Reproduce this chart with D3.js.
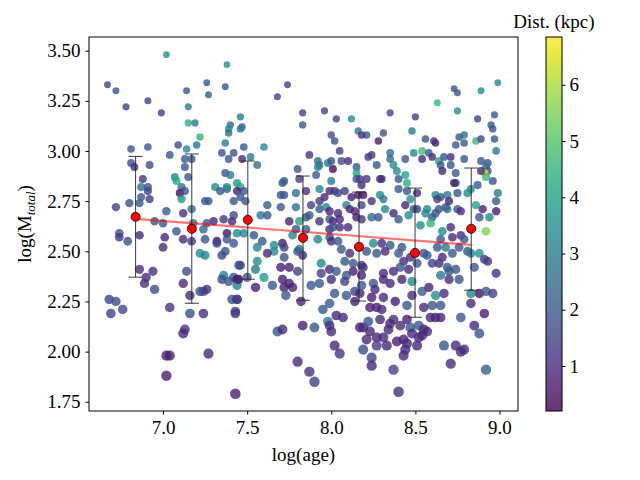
<!DOCTYPE html>
<html>
<head>
<meta charset="utf-8">
<script src="https://cdn.jsdelivr.net/npm/d3@7"></script>
<style>
  body { margin: 0; background: #fff; }
  text { font-family: "Liberation Serif", "DejaVu Serif", serif; }
</style>
</head>
<body>
<script>
// scatter: log(age), log(M_total), distance (kpc)
const logAge = [
  7.02,7.38,6.67,6.72,6.91,6.78,7.14,7.26,7.27,7.37, 6.99,7.15,7.15,7.19,7.22,7.40,7.39,7.39,6.81,6.91,
  7.09,7.14,7.20,7.37,7.04,6.81,6.83,6.92,7.13,7.17, 7.13,7.35,7.42,7.39,7.37,7.40,6.88,7.07,7.08,7.15,
  6.87,6.91,6.91,7.11,7.10,7.13,7.11,6.87,6.92,7.31, 7.34,7.38,7.38,7.44,6.72,6.80,6.86,7.02,7.12,7.17,
  7.25,7.27,7.42,7.36,7.30,7.42,7.41,6.95,7.00,7.18, 7.26,
  6.74,6.74,6.79,6.86,7.01,7.00,7.08,7.12,7.17,7.24, 7.25,7.32,7.32,7.38,7.38,7.44,7.42,7.22,7.25,7.35,
  7.37,7.45,6.86,6.94,6.90,6.89,6.95,7.14,7.12,7.16, 7.22,7.24,7.26,7.36,7.35,7.39,7.42,7.44,7.44,6.68,
  6.72,6.69,6.76,7.04,7.16,7.24,7.41,7.44,7.43,7.13, 7.12,7.02,7.04,7.27,7.02,7.43,
  7.74,7.68,7.83,7.83,7.96,8.03,8.12,7.46,7.47,7.46, 8.00,8.02,8.16,8.21,8.18,8.28,7.48,7.60,7.47,7.52,
  7.56,8.05,7.87,7.92,7.93,7.98,8.00,8.01,8.06,8.10, 7.92,7.91,7.80,8.15,8.15,8.22,8.24,8.27,8.29,7.81,
  7.72,7.71,8.00,8.15,8.17,8.18,8.21,7.46,7.48,7.44, 7.46,7.49,7.85,7.93,7.99,8.02,8.04,8.08,7.96,7.93,
  8.12,8.16,8.19,8.24,7.70,7.72,7.79,7.62,7.70,7.79, 7.88,7.93,7.97,7.99,8.04,8.09,8.11,8.14,8.18,8.15,
  8.18,8.24,8.28,7.58,7.62,7.81,7.75,7.85,7.87,7.99, 8.01,8.05,7.93,
  7.48,7.54,7.59,7.56,7.66,7.66,7.62,7.71,7.72,7.77, 7.79,7.85,7.81,7.83,7.80,7.92,7.99,8.00,8.04,8.06,
  7.99,8.01,8.05,8.10,8.25,8.21,8.27,8.11,8.08,8.13, 8.18,8.19,7.46,7.56,7.55,7.60,7.45,7.50,7.55,7.65,
  7.72,7.70,7.75,7.80,7.71,7.72,7.75,7.77,7.73,7.88, 7.93,7.94,7.94,8.00,7.99,8.03,8.02,7.99,7.95,7.82,
  8.09,8.08,8.09,8.14,8.17,8.14,8.18,8.13,8.18,8.25, 8.26,8.24,8.23,8.27,7.44,7.43,7.68,7.71,7.83,7.90,
  7.98,7.99,8.00,8.03,8.07,8.02,8.05,8.17,8.19,8.22, 8.23,8.21,8.27,8.19,8.27,8.24,8.24,7.80,7.87,7.90,
  8.73,8.75,8.89,8.99,8.63,8.75,8.35,8.50,8.48,8.87, 8.97,8.95,8.96,8.31,8.56,8.61,8.62,8.76,8.79,8.79,
  8.74,8.86,8.89,8.97,8.98,8.35,8.35,8.37,8.39,8.44, 8.49,8.54,8.54,8.58,8.60,8.64,8.67,8.71,8.71,8.65,
  8.66,8.74,8.79,8.89,8.93,8.92,8.93,8.91,8.92,8.96, 8.89,8.87,8.83,8.81,8.74,8.73,8.69,8.75,8.65,8.62,
  8.63,8.44,8.45,8.40,8.40,8.45,8.51,8.30,8.29,8.31, 8.32,8.37,8.44,8.47,8.49,8.51,8.56,8.57,8.60,8.62,
  8.64,8.68,8.70,8.69,8.75,8.77,8.86,8.90,8.98,8.98, 8.99,8.94,8.88,8.40,8.46,
  8.59,8.92,8.88,8.53,8.71,8.66,8.72,8.77,8.79,8.76, 8.81,8.83,8.91,8.93,8.98,8.85,8.74,8.76,8.70,8.65,
  8.66,8.64,8.69,8.60,8.57,8.55,8.51,8.47,8.43,8.42, 8.35,8.32,8.30,8.40,8.41,8.37,8.31,8.31,8.35,8.42,
  8.48,8.46,8.54,8.58,8.62,8.67,8.65,8.60,8.55,8.48, 8.45,8.38,8.31,8.30,8.29,8.35,8.37,8.34,8.41,8.45,
  8.47,8.52,8.54,8.48,8.43,8.39,8.45,8.33,8.31,8.43, 8.44,8.51,8.52,8.59,8.62,8.65,8.55,8.57,8.67,8.74,
  8.77,8.79,8.71,8.77,8.85,8.83,8.88,8.83,8.92,8.96, 8.91,8.88,8.92,8.37,8.40,8.70,8.72,8.68,8.63,8.65
];
const logMass = [
  3.48,3.43,3.33,3.30,3.25,3.22,3.30,3.34,3.28,3.32, 3.19,3.22,3.14,3.14,3.07,3.13,3.11,3.09,3.01,3.02,
  3.03,3.01,3.03,3.04,2.98,2.94,2.92,2.93,2.96,2.96, 2.92,2.99,2.99,2.96,2.89,2.88,2.86,2.87,2.85,2.87,
  2.82,2.82,2.80,2.82,2.79,2.80,2.76,2.77,2.76,2.82, 2.80,2.81,2.82,2.84,2.72,2.74,2.74,2.70,2.69,2.71,
  2.75,2.75,2.75,2.66,2.65,2.68,2.65,2.65,2.64,2.64, 2.64,
  2.59,2.57,2.55,2.58,2.57,2.52,2.60,2.56,2.55,2.61, 2.56,2.55,2.54,2.59,2.56,2.59,2.54,2.49,2.48,2.48,
  2.50,2.43,2.41,2.40,2.37,2.34,2.31,2.40,2.34,2.28, 2.30,2.30,2.31,2.38,2.36,2.35,2.37,2.36,2.33,2.26,
  2.25,2.19,2.21,2.22,2.19,2.19,2.26,2.26,2.19,2.11, 2.09,1.98,1.98,1.99,1.88,1.79,
  3.33,3.27,3.19,3.13,3.20,3.16,3.16,3.17,3.12,3.11, 3.08,3.05,3.10,3.08,3.08,3.05,3.02,3.02,2.96,2.97,
  2.93,3.00,2.98,2.95,2.93,2.94,2.95,2.91,2.95,2.95, 2.92,2.88,2.91,2.92,2.89,2.97,2.98,2.93,2.86,2.86,
  2.85,2.84,2.85,2.86,2.86,2.83,2.86,2.82,2.80,2.80, 2.77,2.75,2.80,2.81,2.80,2.80,2.79,2.80,2.77,2.75,
  2.77,2.78,2.78,2.75,2.78,2.78,2.79,2.73,2.72,2.72, 2.73,2.71,2.72,2.70,2.69,2.73,2.71,2.70,2.73,2.67,
  2.66,2.67,2.67,2.68,2.68,2.65,2.65,2.67,2.68,2.66, 2.65,2.66,2.65,
  2.59,2.58,2.55,2.52,2.53,2.50,2.49,2.54,2.52,2.58, 2.61,2.61,2.51,2.48,2.50,2.56,2.57,2.55,2.55,2.51,
  2.61,2.62,2.62,2.62,2.54,2.50,2.49,2.49,2.45,2.44, 2.43,2.42,2.43,2.45,2.41,2.37,2.36,2.37,2.32,2.33,
  2.47,2.42,2.42,2.40,2.36,2.32,2.34,2.32,2.28,2.33, 2.34,2.44,2.39,2.36,2.41,2.40,2.29,2.24,2.21,2.25,
  2.38,2.35,2.28,2.30,2.29,2.25,2.33,2.40,2.38,2.34, 2.31,2.27,2.22,2.22,2.26,2.20,2.10,2.11,2.13,2.12,
  2.15,2.13,2.10,2.18,2.17,2.03,1.99,2.12,2.12,2.15, 2.10,2.06,2.07,2.01,2.03,1.97,1.93,1.95,1.90,1.85,
  3.31,3.29,3.30,3.34,3.24,3.20,3.19,3.17,3.10,3.16, 3.18,3.13,3.11,3.09,3.06,3.05,3.04,3.07,3.08,3.04,
  3.03,3.05,3.06,3.06,3.00,2.99,2.96,2.93,2.90,2.96, 2.99,3.00,2.96,2.99,2.97,2.95,2.97,2.97,2.93,2.93,
  2.90,2.89,2.96,2.95,2.94,2.92,2.90,2.89,2.87,2.85, 2.90,2.83,2.81,2.79,2.84,2.84,2.78,2.79,2.77,2.78,
  2.76,2.88,2.84,2.86,2.81,2.80,2.79,2.86,2.78,2.76, 2.71,2.69,2.73,2.76,2.71,2.71,2.69,2.71,2.67,2.69,
  2.71,2.72,2.75,2.71,2.71,2.70,2.73,2.71,2.70,2.75, 2.79,2.67,2.67,2.66,2.68,
  2.64,2.60,2.49,2.63,2.62,2.60,2.57,2.58,2.56,2.52, 2.50,2.49,2.46,2.45,2.39,2.42,2.41,2.36,2.36,2.38,
  2.47,2.44,2.42,2.44,2.48,2.49,2.44,2.47,2.45,2.52, 2.53,2.50,2.54,2.49,2.42,2.40,2.39,2.36,2.34,2.36,
  2.35,2.41,2.30,2.32,2.28,2.29,2.23,2.23,2.22,2.28, 2.23,2.25,2.27,2.21,2.16,2.14,2.16,2.11,2.13,2.16,
  2.12,2.13,2.08,2.09,2.06,2.05,2.04,2.03,2.07,1.98, 2.01,2.03,2.07,2.17,2.17,2.17,2.11,2.10,2.03,2.03,
  2.00,2.01,1.94,2.17,2.13,2.24,2.29,2.29,2.30,2.29, 2.19,2.09,1.91,1.91,1.80,2.40,2.49,2.52,2.52,2.56
];
const distKpc = [
  3.2,3.6,1.5,2.0,1.5,1.5,2.0,2.0,2.2,2.0, 1.5,2.9,4.4,2.9,4.6,2.6,3.2,2.6,2.0,2.0,
  1.8,3.4,2.9,3.1,2.0,1.8,1.0,1.8,2.0,2.0, 2.0,1.8,1.8,2.0,2.0,2.9,1.2,3.4,4.2,2.0,
  2.6,2.0,1.5,2.6,0.4,2.0,3.8,2.0,1.2,3.4, 2.0,2.6,3.4,3.8,1.5,1.8,2.0,2.0,1.1,2.6,
  2.0,2.0,2.0,1.3,1.0,1.8,1.0,2.0,2.0,2.9, 2.0,
  1.8,1.3,1.8,1.0,1.0,1.1,2.0,1.0,1.2,2.6, 2.0,0.5,1.5,0.5,2.0,3.4,2.0,3.4,3.2,1.5,
  2.0,2.0,1.0,1.1,1.0,1.1,1.8,1.8,1.0,1.0, 1.7,1.7,1.2,3.2,1.8,2.0,2.0,0.5,3.2,1.5,
  1.8,1.5,1.6,1.2,1.8,1.1,1.8,0.7,1.4,1.2, 1.0,0.8,0.8,1.0,0.8,0.8,
  1.5,1.5,1.5,2.0,1.5,1.5,3.4,2.9,2.0,2.9, 1.8,1.8,2.9,2.0,1.2,0.8,2.0,3.4,1.0,2.9,
  2.6,1.4,1.2,2.6,2.6,3.1,2.0,0.4,1.8,1.0, 3.2,2.0,2.0,2.0,4.2,1.2,1.4,2.0,1.2,1.4,
  2.0,2.0,2.9,2.0,1.5,1.0,1.2,4.1,2.0,0.8, 2.0,2.0,1.1,3.4,1.0,1.0,1.8,1.4,1.0,1.2,
  0.8,0.6,0.6,1.1,2.0,2.0,2.6,2.0,2.0,2.6, 1.5,2.0,3.2,0.8,0.9,3.2,0.8,1.0,1.5,0.8,
  1.3,2.6,2.0,3.1,2.0,4.0,0.8,2.0,2.0,2.0, 1.0,1.0,1.1,
  3.2,2.0,2.0,3.2,3.4,3.4,0.9,0.7,1.4,3.2, 2.0,2.0,2.9,1.0,2.0,3.2,2.0,1.0,2.0,2.0,
  1.0,2.0,1.0,1.0,3.4,2.0,2.0,1.0,2.0,2.0, 1.5,1.0,1.5,3.4,2.9,4.0,0.8,2.0,0.8,2.0,
  2.0,0.8,0.8,1.5,0.8,0.8,0.8,0.8,2.0,2.0, 2.0,3.4,1.4,1.0,1.0,2.0,2.0,2.0,2.0,0.9,
  2.0,1.5,2.0,1.5,0.9,0.8,2.0,0.8,0.8,2.0, 1.0,0.8,0.8,0.8,1.5,1.4,2.0,1.0,0.8,2.0,
  2.9,1.0,1.0,1.0,1.0,1.0,1.2,0.9,0.9,2.0, 0.9,1.0,0.9,1.8,1.4,1.4,1.0,1.0,1.1,1.4,
  2.0,2.0,3.4,3.4,4.6,3.4,1.5,1.5,2.9,1.5, 2.0,2.0,2.0,2.0,2.0,1.2,1.0,2.0,2.6,2.0,
  2.0,4.7,1.5,2.0,2.9,2.6,2.6,3.4,3.4,2.0, 3.4,4.8,1.0,2.0,1.0,4.1,2.0,1.0,2.0,2.0,
  1.0,2.0,2.0,2.0,2.0,2.6,2.0,6.6,4.6,2.0, 1.0,2.0,3.4,3.4,2.0,0.8,2.9,2.0,2.0,3.4,
  1.5,4.2,4.4,2.0,2.0,2.0,1.0,1.0,3.4,2.9, 3.4,1.0,1.0,3.4,2.0,1.4,3.4,3.4,2.0,2.0,
  2.0,2.0,0.9,2.6,2.0,1.0,4.1,0.8,0.8,2.0, 2.9,3.4,2.0,2.0,3.4,
  4.6,5.5,3.6,3.4,1.0,3.4,1.0,1.0,2.0,2.0, 2.0,2.9,1.5,1.2,1.2,2.0,2.0,2.0,1.0,2.9,
  1.0,1.0,2.0,1.5,2.0,2.0,2.0,1.0,1.0,2.0, 2.0,1.0,1.0,2.0,2.0,1.0,1.0,1.0,1.0,0.9,
  3.5,1.0,2.0,0.9,3.4,1.0,2.0,2.0,1.0,1.0, 2.0,0.8,1.0,1.0,1.0,1.0,1.0,1.0,1.0,0.8,
  2.0,2.0,1.0,1.0,0.8,0.8,1.0,1.0,1.0,1.0, 1.0,1.0,1.0,0.9,0.9,0.9,1.0,1.0,2.0,1.0,
  1.0,1.0,1.0,2.0,1.0,1.0,0.5,3.2,2.0,1.5, 0.8,2.0,2.2,1.5,1.1,2.0,2.0,2.9,2.0,2.0
];

// binned medians with asymmetric spread
const binAge = [6.837, 7.171, 7.504, 7.832, 8.165, 8.498, 8.832];
const binMed = [2.672, 2.612, 2.657, 2.567, 2.522, 2.492, 2.612];
const binLo  = [2.371, 2.241, 2.361, 2.256, 2.252, 2.171, 2.306];
const binHi  = [2.973, 2.985, 2.950, 2.875, 2.795, 2.815, 2.915];

// linear fit through the bins
const fitAge  = [6.837, 8.832];
const fitMass = [2.662, 2.532];

const xTicks  = [7.0, 7.5, 8.0, 8.5, 9.0];
const yTicks  = [1.75, 2.00, 2.25, 2.50, 2.75, 3.00, 3.25, 3.50];
const cbTicks = [1, 2, 3, 4, 5, 6];

const W = 640, H = 480;
const pL = 89, pR = 518, pT = 37, pB = 411;
const cbL = 546, cbR = 562;

const svg = d3.select("body").append("svg")
    .attr("width", W)
    .attr("height", H);

const x = d3.scaleLinear().domain([6.56, 9.11]).range([pL, pR]);
const y = d3.scaleLinear().domain([1.704, 3.568]).range([pB, pT]);
const cScale = d3.scaleSequential(d3.interpolateViridis).domain([0.2, 6.85]);
const rScale = d3.scaleLinear().domain([1.8, 3.45]).range([5.3, 3.3]).clamp(true);

svg.append("defs").append("clipPath").attr("id", "clip")
  .append("rect")
    .attr("x", pL).attr("y", pT)
    .attr("width", pR - pL).attr("height", pB - pT);

const marks = svg.append("g").attr("clip-path", "url(#clip)");

marks.selectAll("circle.star")
  .data(d3.range(logAge.length))
  .enter().append("circle")
    .attr("class", "star")
    .attr("cx", i => x(logAge[i]))
    .attr("cy", i => y(logMass[i]))
    .attr("r", i => rScale(logMass[i]))
    .attr("fill", i => cScale(distKpc[i]))
    .attr("fill-opacity", 0.8);

marks.append("path")
    .attr("d", d3.line()(fitAge.map((a, i) => [x(a), y(fitMass[i])])))
    .attr("stroke", "red")
    .attr("stroke-opacity", 0.55)
    .attr("stroke-width", 2.2)
    .attr("fill", "none");

const bars = marks.selectAll("g.bin")
  .data(d3.range(binAge.length))
  .enter().append("g")
    .attr("class", "bin");

bars.append("line")
    .attr("x1", i => x(binAge[i])).attr("x2", i => x(binAge[i]))
    .attr("y1", i => y(binLo[i])).attr("y2", i => y(binHi[i]));
bars.append("line")
    .attr("x1", i => x(binAge[i]) - 7).attr("x2", i => x(binAge[i]) + 7)
    .attr("y1", i => y(binLo[i])).attr("y2", i => y(binLo[i]));
bars.append("line")
    .attr("x1", i => x(binAge[i]) - 7).attr("x2", i => x(binAge[i]) + 7)
    .attr("y1", i => y(binHi[i])).attr("y2", i => y(binHi[i]));
bars.selectAll("line")
    .attr("stroke", "#222")
    .attr("stroke-width", 0.9);

bars.append("circle")
    .attr("cx", i => x(binAge[i]))
    .attr("cy", i => y(binMed[i]))
    .attr("r", 4.6)
    .attr("fill", "red")
    .attr("stroke", "black")
    .attr("stroke-width", 0.7);

// axes
const xAxis = d3.axisBottom(x).tickValues(xTicks).tickFormat(d3.format(".1f"))
    .tickSize(3.5).tickPadding(6);
const yAxis = d3.axisLeft(y).tickValues(yTicks).tickFormat(d3.format(".2f"))
    .tickSize(3.5).tickPadding(5);

svg.append("g").attr("transform", `translate(0,${pB})`).call(xAxis);
svg.append("g").attr("transform", `translate(${pL},0)`).call(yAxis);

svg.append("rect")
    .attr("x", pL).attr("y", pT)
    .attr("width", pR - pL).attr("height", pB - pT)
    .attr("fill", "none").attr("stroke", "black").attr("stroke-width", 1);

svg.selectAll(".domain").remove();
svg.selectAll(".tick line").attr("stroke", "black");
svg.selectAll(".tick text").attr("font-size", 19).attr("fill", "black")
    .style("font-family", "'Liberation Serif', serif");

svg.append("text")
    .attr("x", (pL + pR) / 2).attr("y", 461)
    .attr("text-anchor", "middle")
    .attr("font-size", 19)
    .text("log(age)");

const yl = svg.append("text")
    .attr("transform", `translate(31,${(pT + pB) / 2}) rotate(-90)`)
    .attr("text-anchor", "middle")
    .attr("font-size", 19);
yl.append("tspan").text("log(M");
yl.append("tspan").attr("font-style", "italic").attr("font-size", 13).attr("dy", 4).text("total");
yl.append("tspan").attr("dy", -4).text(")");

// colorbar
const cb = d3.scaleLinear().domain([0.2, 6.85]).range([pB, pT]);
const grad = svg.append("defs").append("linearGradient")
    .attr("id", "cbgrad")
    .attr("x1", 0).attr("y1", 1).attr("x2", 0).attr("y2", 0);
grad.selectAll("stop")
  .data(d3.range(0, 1.0001, 0.05))
  .enter().append("stop")
    .attr("offset", t => t)
    .attr("stop-color", t => d3.interpolateViridis(t));

svg.append("rect")
    .attr("x", cbL).attr("y", pT)
    .attr("width", cbR - cbL).attr("height", pB - pT)
    .attr("fill", "url(#cbgrad)")
    .attr("fill-opacity", 0.8)
    .attr("stroke", "black").attr("stroke-width", 1);

const cAxis = d3.axisRight(cb).tickValues(cbTicks).tickFormat(d3.format("d"))
    .tickSize(3.5).tickPadding(4);
const cg = svg.append("g").attr("transform", `translate(${cbR},0)`).call(cAxis);
cg.select(".domain").remove();
cg.selectAll(".tick line").attr("stroke", "black");
cg.selectAll(".tick text").attr("font-size", 19).attr("fill", "black")
    .style("font-family", "'Liberation Serif', serif");

svg.append("text")
    .attr("x", 554).attr("y", 28)
    .attr("text-anchor", "middle")
    .attr("font-size", 19)
    .text("Dist. (kpc)");
</script>
</body>
</html>
